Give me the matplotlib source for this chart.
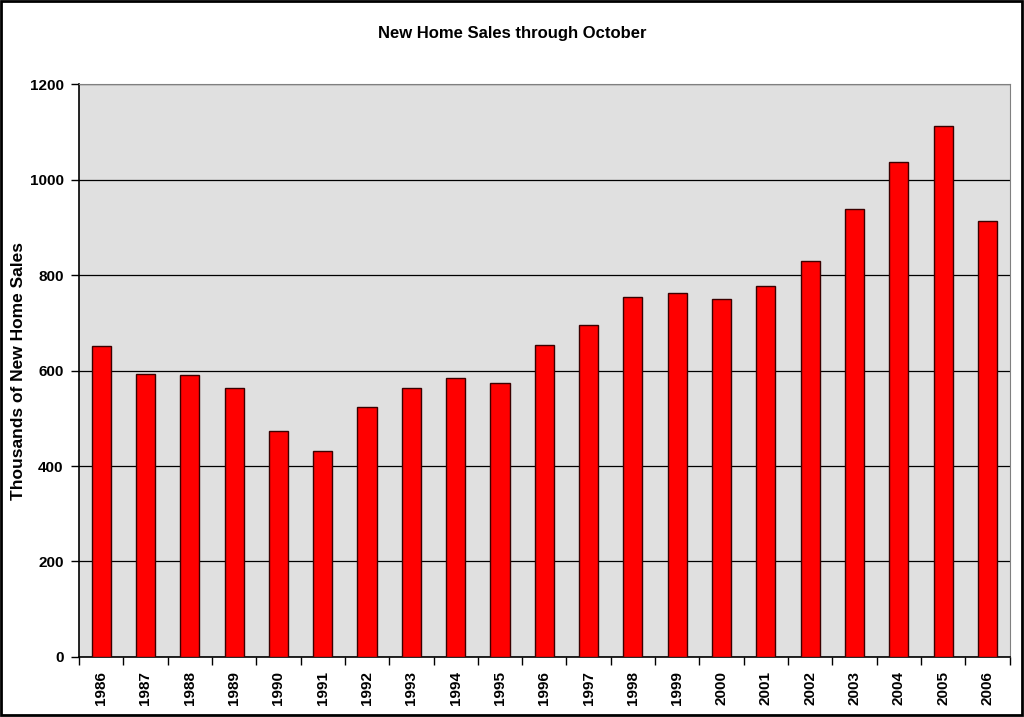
import matplotlib.pyplot as plt
from matplotlib.patches import Rectangle

years = [str(y) for y in range(1986, 2007)]
sales = [651, 593, 591, 563, 473, 431, 524, 563, 584, 574, 653,
         695, 754, 762, 750, 777, 829, 938, 1037, 1112, 913]
yticks = [0, 200, 400, 600, 800, 1000, 1200]

plt.rcParams['font.family'] = ['Liberation Sans', 'DejaVu Sans']

fig = plt.figure(figsize=(10.24, 7.17), dpi=100)
ax = fig.add_axes([0.0771, 0.0837, 0.9089, 0.7991])
ax.set_facecolor('#e0e0e0')

x = range(len(years))
ax.bar(x, sales, width=0.43, color='#ff0000', edgecolor='#3a0000', linewidth=1, zorder=3)

ax.set_xlim(-0.5, len(years) - 0.5)
ax.set_ylim(0, 1200)
ax.set_yticks(yticks)
ax.set_yticklabels([str(v) for v in yticks], fontsize=11, fontweight='bold')
ax.yaxis.grid(True, color='black', linewidth=0.9, zorder=1)
ax.tick_params(axis='y', direction='out', length=6, width=1, pad=5)

ax.set_xticks(list(x))
ax.set_xticklabels(years, rotation=90, fontsize=11, fontweight='bold')
ax.tick_params(axis='x', length=0, pad=10)
ax.set_xticks([i - 0.5 for i in range(len(years) + 1)], minor=True)
ax.tick_params(axis='x', which='minor', direction='out', length=6, width=1)

for side in ['top', 'right']:
    ax.spines[side].set_color('#808080')
for side in ['left', 'bottom']:
    ax.spines[side].set_color('black')
    ax.spines[side].set_linewidth(1.2)

ax.set_ylabel('Thousands of New Home Sales', fontsize=12.5, fontweight='bold')
ax.yaxis.set_label_coords(-0.057, 0.5)
fig.text(0.5, 0.953, 'New Home Sales through October', ha='center', va='center',
         fontsize=12, fontweight='bold')

fig.patches.append(Rectangle((0.001, 0.003), 0.997, 0.995, transform=fig.transFigure,
                             fill=False, edgecolor='black', linewidth=2))

fig.savefig('out.png', dpi=100)
